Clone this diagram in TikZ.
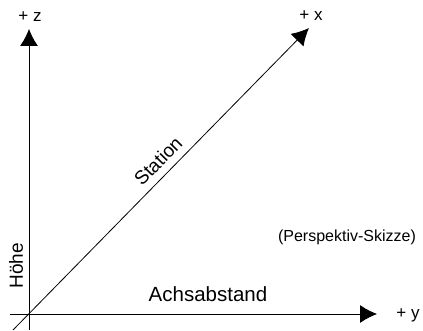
\documentclass[tikz,border=0pt]{standalone}
\usepackage{fontspec}
\setmainfont{Liberation Sans}
\usetikzlibrary{positioning,calc}
\usetikzlibrary{arrows.meta}
\tikzset{>={Latex[length=17pt,width=18pt]}}
\tikzset{axis/.style={line width=0.8pt},
	axislabel/.style={font=\fontsize{17}{17}\selectfont,inner sep=0pt},
	biglabel/.style={font=\fontsize{19}{19}\selectfont,inner sep=0pt}}
\begin{document}
\begin{tikzpicture}[x=1pt,y=1pt]
	\useasboundingbox (0,0) rectangle (423,330);
	% origin and ends of the axes
	\coordinate (O) at (29,16);
	\coordinate (z tail) at (29,0);
	\coordinate (z tip) at (29,301);
	\coordinate (y tail) at (10,16);
	\coordinate (y tip) at (377,16);
	\coordinate (x tail) at (13,0);
	\coordinate (x tip) at (309,302);
	\draw[->,axis] (z tail) -- (z tip);
	\draw[->,axis] (y tail) -- (y tip);
	\draw[->,axis] (x tail) -- (x tip);
	\node[axislabel] (z label) at (30,313) {+ z};
	\node[axislabel] (x label) at (311,314) {+ x};
	\node[axislabel] (y label) at (408,15) {+ y};
	\node[biglabel,rotate=90] (hoehe) at (16,64) {Höhe};
	\node[biglabel,font=\fontsize{20.5}{20.5}\selectfont] (achs) at (208,36) {Achsabstand};
	\node[biglabel,rotate=45.6] (station) at (158,169) {Station};
	\node[font=\fontsize{16}{16}\selectfont,inner sep=0pt] (skizze) at (347,93) {(Perspektiv-Skizze)};
\end{tikzpicture}
\end{document}
